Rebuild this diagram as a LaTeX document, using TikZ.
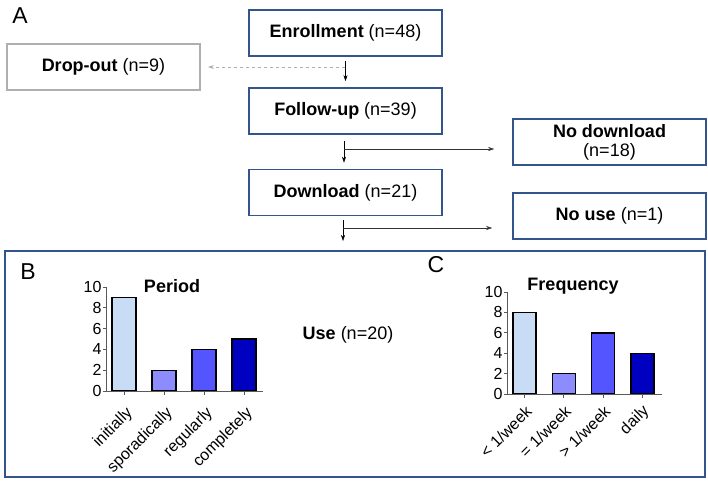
\documentclass[tikz,border=0pt]{standalone}
\usepackage{fontspec}
\setmainfont{Liberation Sans}
\usetikzlibrary{arrows.meta}
\definecolor{boxblue}{RGB}{52,84,140}
\definecolor{dropgray}{RGB}{175,175,175}
\definecolor{barA}{RGB}{200,220,246}
\definecolor{barB}{RGB}{140,140,255}
\definecolor{barC}{RGB}{85,85,255}
\definecolor{barD}{RGB}{0,0,192}
\definecolor{axgray}{RGB}{90,90,90}

\begin{document}
\begin{tikzpicture}[x=1pt,y=-1pt,>={Stealth[length=6pt,width=4pt]},
  font=\fontsize{18}{20}\selectfont,
  flowbox/.style={draw=boxblue,line width=1.6pt,minimum width=193pt,minimum height=46pt,inner sep=2pt,align=center},
  letter/.style={font=\fontsize{23}{25}\selectfont},
  charttitle/.style={font=\fontsize{18}{20}\selectfont\bfseries},
  ticklabel/.style={left,inner sep=1pt,black,font=\fontsize{16}{18}\selectfont},
  catlabel/.style={rotate=45,anchor=east,inner sep=1pt,font=\fontsize{16}{18}\selectfont}]
  \useasboundingbox (0,0) rectangle (708,482);
  \node[letter] (lA) at (20,16) {A};
  \node[flowbox] (enroll) at (345.5,33) {\textbf{Enrollment} (n=48)};
  \node[flowbox,draw=dropgray] (drop) at (103.5,67) {\textbf{Drop-out} (n=9)};
  \node[flowbox] (follow) at (345.5,111) {\textbf{Follow-up} (n=39)};
  \node[flowbox,font=\fontsize{18}{19}\selectfont] (nodl) at (609.5,142) {\textbf{No download}\\(n=18)};
  \node[flowbox] (dl) at (345.5,192.5) {\textbf{Download} (n=21)};
  \node[flowbox] (nouse) at (609.5,216) {\textbf{No use} (n=1)};
  \draw[boxblue,line width=1.6pt] (5,251) rectangle (705,477);
  \node (use) at (348,335) {\textbf{Use} (n=20)};
  % flow arrows
  \coordinate (s1) at (345,67);
  \coordinate (s2) at (344,149);
  \coordinate (s3) at (343,228);
  \draw[->] ([yshift=-4pt]enroll.south) -- ([yshift=6pt]follow.north);
  \draw[->,dashed,dropgray,line width=0.8pt] (s1) -- ([xshift=7pt]drop.east);
  \draw[->] ([yshift=-6pt]follow.south -| s2) -- ([yshift=6pt]dl.north -| s2);
  \draw[->,black!80] (s2) -- ([xshift=-18pt]nodl.west |- s2);
  \draw[->] ([yshift=-4pt]dl.south -| s3) -- (343,241);
  \draw[->,black!80] (s3) -- ([xshift=-20pt]nouse.west |- s3);
  % chart B
  \node[letter] (lB) at (28,272) {B};
  \node[charttitle] (tB) at (172,286) {Period};
  \foreach \v in {0,2,...,10}
    \draw[axgray,line width=1pt] (106,{391-10.4*\v}) -- ++(-3,0) node[ticklabel] {\v};
  \foreach \h/\c/\t [count=\i] in {9/barA/initially,2/barB/sporadically,4/barC/regularly,5/barD/completely}{
    \filldraw[fill=\c,line width=1.4pt] ({112+40*(\i-1)},391) rectangle ++(24,{-10.4*\h});
    \draw[axgray,line width=1pt] ({124+40*(\i-1)},391) -- ++(0,4);
    \node[catlabel] at ({131+40*(\i-1)},410) {\t};
  }
  \draw[axgray,line width=1pt] (106,287) -- (106,391) -- (263,391);
  % chart C
  \node[letter] (lC) at (436,265) {C};
  \node[charttitle] (tC) at (573,286) {Frequency};
  \foreach \v in {0,2,...,10}
    \draw[axgray,line width=1pt] (507,{394-10.2*\v}) -- ++(-3,0) node[ticklabel] {\v};
  \foreach \h/\c/\t [count=\i] in {8/barA/{< 1/week},2/barB/{= 1/week},6/barC/{> 1/week},4/barD/daily}{
    \filldraw[fill=\c,line width=1.4pt] ({513+39.3*(\i-1)},394) rectangle ++(23,{-10.2*\h});
    \draw[axgray,line width=1pt] ({524.5+39.3*(\i-1)},394) -- ++(0,4);
    \node[catlabel] at ({529.5+39.3*(\i-1)},408) {\t};
  }
  \draw[axgray,line width=1pt] (507,292) -- (507,394) -- (662,394);
\end{tikzpicture}
\end{document}
